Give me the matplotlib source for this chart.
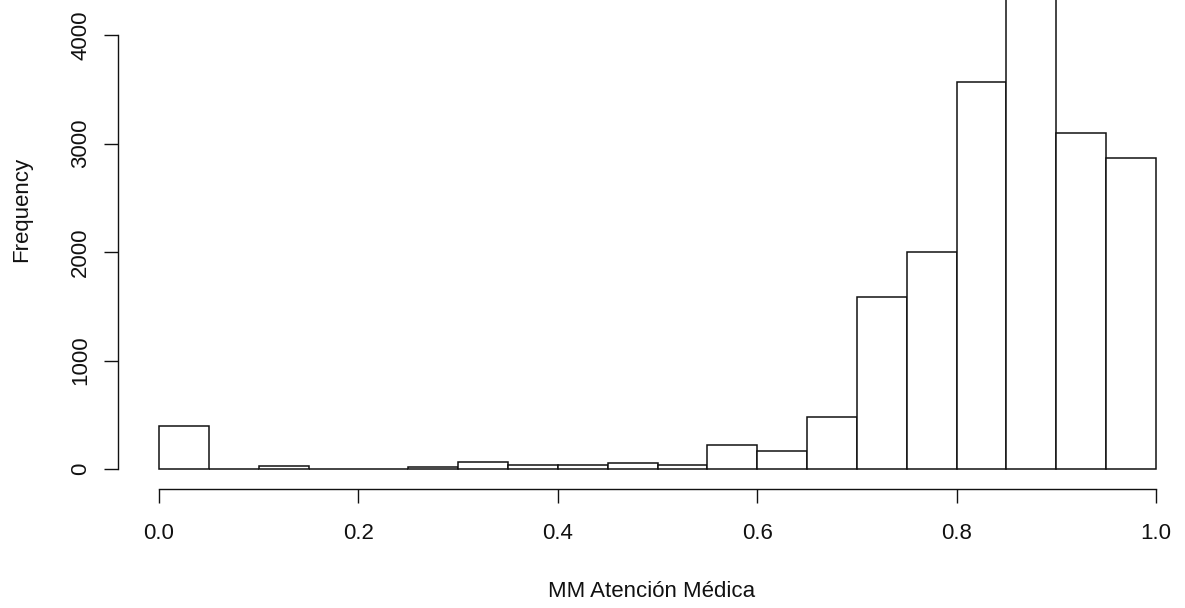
import matplotlib
matplotlib.use("Agg")
import matplotlib.pyplot as plt
import numpy as np

# Histogram of MM Atención Médica: 20 bins of width 0.05 over [0, 1]
bin_edges = [round(0.05 * i, 2) for i in range(21)]
counts = [400, 0, 25, 0, 0, 20, 65, 35, 37, 52, 37, 225, 170, 482,
          1588, 2003, 3570, 4550, 3094, 2866]

x_ticks = [0.0, 0.2, 0.4, 0.6, 0.8, 1.0]
x_tick_labels = ["0.0", "0.2", "0.4", "0.6", "0.8", "1.0"]
y_ticks = [0, 1000, 2000, 3000, 4000]
y_tick_labels = ["0", "1000", "2000", "3000", "4000"]
x_label = "MM Atención Médica"
y_label = "Frequency"

plt.rcParams["font.family"] = ["Liberation Sans", "DejaVu Sans"]

W, H, DPI = 1185, 608, 100
FS = 16
INK = "#111111"
fig = plt.figure(figsize=(W / DPI, H / DPI), dpi=DPI)
fig.patch.set_facecolor("white")

# axes spans x data 0..1 horizontally and y from 0 up to the top edge
left_px, right_px = 159, 1156
base_px = 469
ax = fig.add_axes([left_px / W, (H - base_px) / H,
                   (right_px - left_px) / W, base_px / H])
px_per_unit = (469 - 35) / 4000.0
ax.set_xlim(0, 1)
ax.set_ylim(0, base_px / px_per_unit)

lefts = bin_edges[:-1]
widths = np.diff(bin_edges)
ax.bar(lefts, counts, width=widths, align="edge", facecolor="white",
       edgecolor=INK, linewidth=1.1, clip_on=False)

for side in ("top", "right"):
    ax.spines[side].set_visible(False)
ax.spines["bottom"].set_position(("outward", 14.4))
ax.spines["bottom"].set_bounds(0, 1)
ax.spines["left"].set_position(("outward", 29.5))
ax.spines["left"].set_bounds(0, 4000)
for side in ("bottom", "left"):
    ax.spines[side].set_linewidth(1.0)
    ax.spines[side].set_color(INK)

ax.set_xticks(x_ticks)
ax.set_xticklabels(x_tick_labels)
ax.set_yticks(y_ticks)
ax.set_yticklabels(y_tick_labels, rotation=90, va="center")
ax.tick_params(axis="x", length=10, width=1.0, color=INK,
               pad=14.5, labelsize=FS, labelcolor=INK)
ax.tick_params(axis="y", length=10, width=1.0, color=INK,
               pad=9.3, labelsize=FS, labelcolor=INK)

fig.text(652 / W, 1 - 597 / H, x_label, ha="center", va="baseline",
         fontsize=FS, color=INK)
fig.text(22 / W, 1 - 209 / H, y_label, ha="center", va="center",
         rotation=90, fontsize=FS, color=INK)

fig.savefig("out.png", dpi=DPI, facecolor="white")
